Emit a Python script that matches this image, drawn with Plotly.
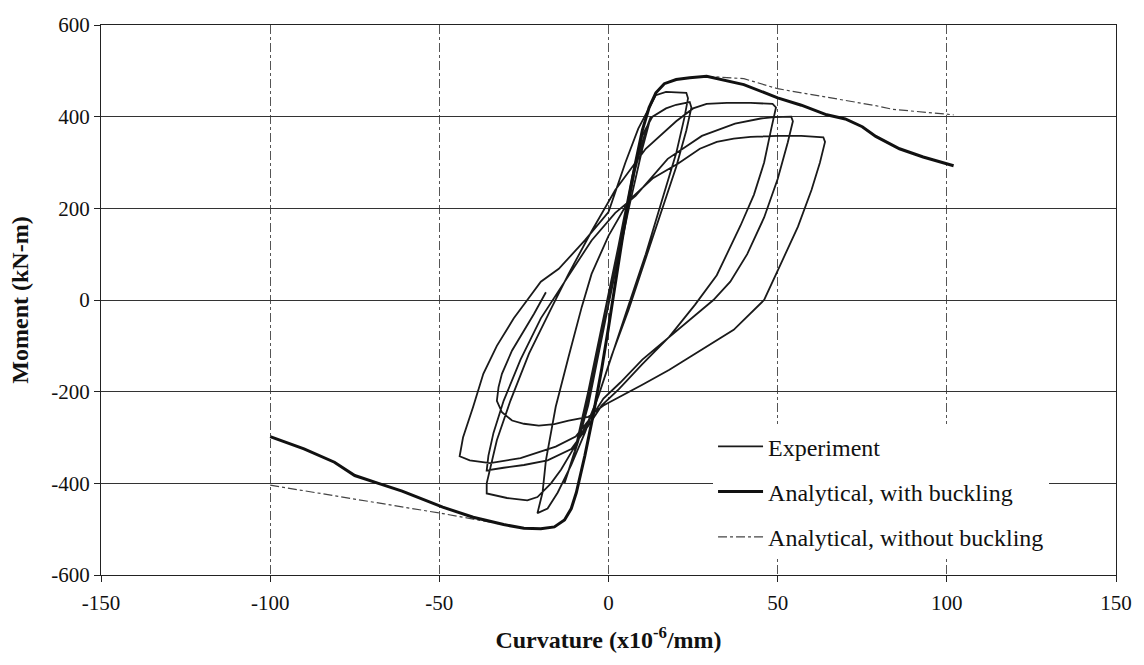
import plotly.graph_objects as go

# ---------------- data ----------------
exp_curv = [0, 3, 6, 8, 9.5, 7, 3, 0, -3, -6, -8, -9, -6, -3, 0, 4, 8, 11, 12.5, 10, 6, 2, -2, -6, -9, -12, -13,
            -10, -6, -2, 3, 7, 10, 13, 17, 20, 24,
            24.5, 23, 20, 16, 11, 6, 1, -3, -6, -10, -14, -17, -21, -24, -30, -36,
            -36, -35, -33, -29, -23.5, -16.7, -11.8, -5, 2, 11, 20, 25, 29, 35, 42, 48.5,
            49.5, 48, 46, 43, 39, 32, 25.6, 18, 10, 3, -2, -6, -11, -18, -25, -31, -36,
            -35.5, -34, -31, -26, -20, -13, -5, 2, 8, 17.5, 27.6, 37.4, 45, 49, 54,
            54.5, 53, 50, 46, 41, 36, 31, 18, 10, 3.5, -1.5, -5, -9.7, -15.6, -23.5, -26, -35, -41, -44,
            -43, -40, -37, -33, -28, -24, -20, -14.7, -7, 0, 5, 8.8, 12, 14, 17, 20, 23,
            23.5, 22.5, 20, 16, 11, 6, 1, -3, -7, -11, -15, -18, -21,
            -19.5, -18.5, -15.6, -11.8, -7.9, -5, 0, 6, 13, 20.6, 27, 32, 37, 42, 50, 57, 63.5,
            64, 62.5, 60, 56, 51, 46, 37, 27, 18, 10, 3.5, -1.5, -6, -11.8, -16, -20.6, -25, -28.5, -31.5, -33,
            -32.5, -31.5, -28.5, -25.6, -22, -18.5]
exp_moment = [0, 110, 220, 290, 330, 260, 120, 10, -100, -210, -280, -310, -230, -120, -10, 150, 290, 370, 400, 330, 200, 60, -80, -220, -310, -380, -400,
              -330, -200, -60, 120, 270, 360, 400, 418, 426, 432,
              420, 370, 290, 200, 90, -20, -120, -210, -265, -320, -370, -400, -430, -437, -432, -422,
              -400, -370, -306, -220, -117, -15, 57, 150, 240, 330, 390, 418, 428, 430, 430, 428,
              420, 370, 300, 230, 162, 54, -10, -80, -140, -195, -230, -275, -325, -350, -360, -366, -372,
              -340, -290, -220, -130, -40, 40, 130, 190, 227, 308, 358, 385, 396, 399, 400,
              390, 344, 264, 180, 100, 40, 0, -80, -130, -180, -215, -255, -298, -320, -339, -345, -356, -350, -341,
              -300, -233, -161, -100, -40, 0, 40, 68, 130, 192, 300, 374, 420, 447, 454, 453, 452,
              440, 400, 320, 220, 100, -10, -120, -210, -290, -360, -420, -455, -465,
              -420, -350, -233, -124, -15, 57, 140, 217, 265, 298, 330, 345, 352, 356, 358, 358, 355,
              345, 300, 240, 160, 80, 0, -65, -110, -152, -185, -210, -230, -255, -263, -271, -274, -270, -263, -245, -220,
              -190, -161, -110, -74, -30, 17]

buck_curv = [-100, -90, -81, -75, -68, -61, -49, -40, -31, -25, -20, -16, -13, -11, -9.5, -7, -4.5, -2, 0, 2, 4, 6, 8,
             10, 12, 14, 16.5, 20, 24, 29, 40, 50, 57, 64.5, 70, 75, 79, 86, 93, 102]
buck_moment = [-298, -325, -354, -383, -400, -417, -452, -474, -490, -498, -499, -495, -480, -455, -420, -340, -250, -150,
               -60, 40, 130, 220, 300, 370, 420, 452, 472, 481, 485, 488, 470, 441, 425, 404, 395, 378, 357, 330, 312, 293]

nobuck_curv = [-100, -80, -61, -49, -40, -31, -25, -20, -16, -13, -11, -9.5, -7, -4.5, -2, 0, 2, 4, 6, 8,
               10, 12, 14, 16.5, 20, 24, 29, 40, 50, 60, 69.5, 79, 84, 94, 102]
nobuck_moment = [-404, -428, -452, -466, -478, -491, -498, -499, -495, -480, -455, -420, -340, -250, -150,
                 -60, 40, 130, 220, 300, 370, 420, 452, 472, 481, 485, 488, 483, 461, 448, 437, 424, 416, 409, 404]

x_ticks = [-150, -100, -50, 0, 50, 100, 150]
x_tick_text = ["-150", "-100", "-50", "0", "50", "100", "150"]
y_ticks = [-600, -400, -200, 0, 200, 400, 600]
y_tick_text = ["-600", "-400", "-200", "0", "200", "400", "600"]

# ---------------- figure ----------------
SERIF = "Liberation Serif, Times New Roman, serif"
fig = go.Figure()

fig.add_trace(go.Scatter(x=exp_curv, y=exp_moment, mode="lines", name="Experiment",
                         line=dict(color="#1a1a1a", width=1.8), legendrank=1, legendgroup="a"))
fig.add_trace(go.Scatter(x=nobuck_curv, y=nobuck_moment, mode="lines", name="Analytical, without buckling",
                         line=dict(color="#444444", width=1.2, dash="dashdot"), legendrank=3, legendgroup="c"))
fig.add_trace(go.Scatter(x=buck_curv, y=buck_moment, mode="lines", name="Analytical, with buckling",
                         line=dict(color="#111111", width=3), legendrank=2, legendgroup="b"))

fig.update_layout(
    width=1144, height=665,
    margin=dict(l=101, r=28, t=25, b=90),
    paper_bgcolor="white", plot_bgcolor="white",
    font=dict(family=SERIF, size=21, color="#111"),
    showlegend=True,
    legend=dict(x=0.603, y=0.274, xanchor="left", yanchor="top",
                bgcolor="white", borderwidth=0, font=dict(family=SERIF, size=24, color="#111"),
                tracegroupgap=11, itemwidth=45),
)
fig.update_xaxes(
    range=[-150, 150], tickvals=x_ticks, ticktext=x_tick_text,
    showgrid=True, gridcolor="#555", gridwidth=1, griddash="dashdot",
    zeroline=False, showline=True, linecolor="#222", linewidth=1.2, mirror=True,
    ticks="outside", ticklen=6, tickcolor="#222", ticklabelstandoff=3,
    title=dict(text="<b>Curvature (x10<sup>-6</sup>/mm)</b>", font=dict(family=SERIF, size=24), standoff=16),
)
fig.update_yaxes(
    range=[-600, 600], tickvals=y_ticks, ticktext=y_tick_text,
    showgrid=True, gridcolor="#333", gridwidth=1.2,
    zeroline=False, showline=True, linecolor="#222", linewidth=1.2, mirror=True,
    ticks="outside", ticklen=6, tickcolor="#222",
    title=dict(text="<b>Moment (kN-m)</b>", font=dict(family=SERIF, size=24), standoff=15),
)

fig.write_html("out.html")
